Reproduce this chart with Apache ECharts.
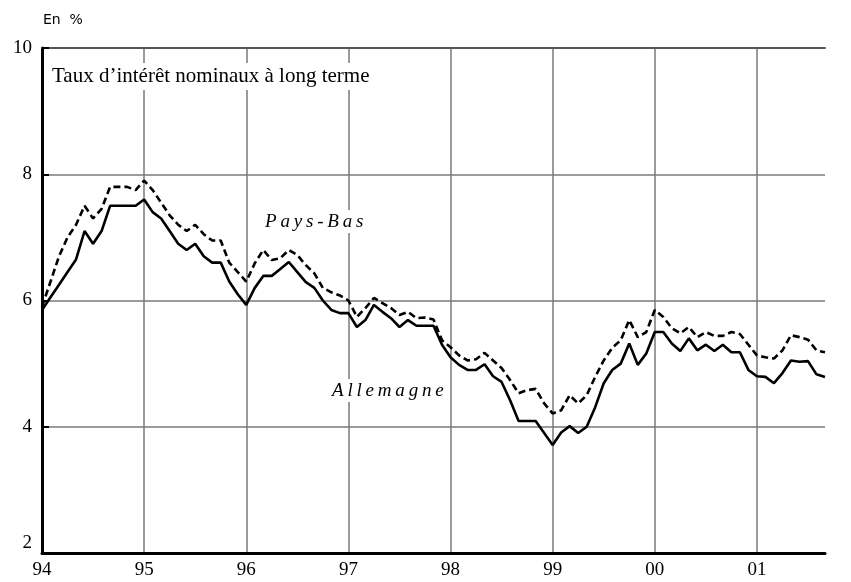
<!DOCTYPE html>
<html><head><meta charset="utf-8">
<script src="https://cdn.jsdelivr.net/npm/echarts@6/dist/echarts.min.js"></script>
<style>html,body{margin:0;padding:0;background:#fff}#c{width:851px;height:582px}</style>
</head><body><div id="c"></div>
<script>
// Monthly, Jan 1994 (index 0) to Sep 2001 (index 92)
const yearLabels = ['94','95','96','97','98','99','00','01'];
const allemagne = [
 5.85,6.05,6.25,6.45,6.65,7.1,6.9,7.1,7.5,7.5,7.5,7.5,
 7.6,7.4,7.3,7.1,6.9,6.8,6.9,6.7,6.6,6.6,6.3,6.1,
 5.93,6.2,6.39,6.39,6.5,6.61,6.45,6.29,6.2,6.0,5.85,5.8,
 5.8,5.58,5.69,5.93,5.82,5.72,5.58,5.69,5.6,5.6,5.6,5.3,
 5.1,4.98,4.9,4.9,4.99,4.8,4.71,4.42,4.09,4.09,4.09,3.9,
 3.71,3.91,4.01,3.9,4.0,4.31,4.69,4.9,5.0,5.32,4.98,5.16,
 5.5,5.5,5.32,5.2,5.4,5.21,5.3,5.2,5.3,5.18,5.18,4.9,
 4.8,4.79,4.69,4.85,5.05,5.03,5.04,4.83,4.79
];
const paysBas = [
 5.9,6.3,6.7,7.0,7.2,7.5,7.3,7.45,7.8,7.8,7.8,7.75,
 7.9,7.75,7.55,7.35,7.2,7.1,7.2,7.05,6.95,6.95,6.6,6.45,
 6.3,6.59,6.8,6.64,6.67,6.8,6.72,6.56,6.43,6.2,6.13,6.08,
 6.0,5.74,5.88,6.04,5.96,5.88,5.77,5.82,5.72,5.73,5.7,5.37,
 5.26,5.13,5.05,5.07,5.17,5.05,4.93,4.74,4.53,4.58,4.6,4.37,
 4.21,4.26,4.5,4.37,4.5,4.79,5.05,5.25,5.37,5.69,5.42,5.5,
 5.85,5.74,5.56,5.48,5.58,5.42,5.5,5.44,5.44,5.5,5.47,5.3,
 5.13,5.1,5.08,5.21,5.45,5.42,5.38,5.21,5.18
];
const yTicks = [2,4,6,8,10];

const chart = echarts.init(document.getElementById('c'));
const serif = '"Liberation Serif", "Times New Roman", serif';
const sp = '\u2009';
chart.setOption({
  animation: false,
  backgroundColor: '#fff',
  title: [
    {text: 'En  %', left: 38, top: 8, textStyle: {fontFamily: '"DejaVu Sans", sans-serif', fontSize: 14, fontWeight: 'normal', color: '#000'}},
    {text: 'Taux d\u2019intérêt nominaux à long terme', left: 49, top: 63, padding: [3, 3],
     backgroundColor: '#fff',
     textStyle: {fontFamily: serif, fontSize: 21, fontWeight: 'normal', color: '#000'}},
    {text: 'Pays-Bas'.split('').join(sp), left: 263, top: 210, padding: [2, 2],
     backgroundColor: '#fff',
     textStyle: {fontFamily: serif, fontSize: 19, fontStyle: 'italic', fontWeight: 'normal', color: '#000'}},
    {text: 'Allemagne'.split('').join(sp), left: 330, top: 379, padding: [2, 2],
     backgroundColor: '#fff',
     textStyle: {fontFamily: serif, fontSize: 19, fontStyle: 'italic', fontWeight: 'normal', color: '#000'}}
  ],
  grid: {left: 42, top: 48, right: 26, bottom: 29, containLabel: false},
  xAxis: [{
    type: 'value', min: 0, max: 92, interval: 12,
    axisLine: {show: true, lineStyle: {color: '#000', width: 3}},
    axisTick: {show: false},
    splitLine: {show: true, showMinLine: false, showMaxLine: false, lineStyle: {color: '#7a7a7a', width: 1.5}},
    axisLabel: {
      fontFamily: serif, fontSize: 19, color: '#000', margin: 8,
      showMaxLabel: false,
      formatter: v => (v % 12 === 0 && v / 12 < yearLabels.length) ? yearLabels[v / 12] : ''
    }
  }, {
    type: 'value', min: 0, max: 92, position: 'top',
    axisLine: {show: true, lineStyle: {color: '#555', width: 2}},
    axisTick: {show: false}, axisLabel: {show: false}, splitLine: {show: false}
  }],
  yAxis: {
    type: 'value', min: 2, max: 10, interval: 2,
    axisLine: {show: true, lineStyle: {color: '#000', width: 3}},
    axisTick: {show: true, inside: true, length: 7, lineStyle: {color: '#000', width: 2}},
    splitLine: {show: true, showMinLine: false, showMaxLine: false, lineStyle: {color: '#7a7a7a', width: 1.5}},
    axisLabel: {
      fontFamily: serif, fontSize: 19, color: '#000', margin: 10,
      formatter: v => yTicks.includes(v) ? (v === 2 ? '{lo|2}' : String(v)) : '',
      rich: {lo: {fontFamily: serif, fontSize: 19, color: '#000', padding: [0, 0, 20, 0]}}
    }
  },
  series: [
    {name: 'Pays-Bas', type: 'line', showSymbol: false, z: 3,
     data: paysBas.map((v, i) => [i, v]),
     lineStyle: {color: '#000', width: 2.6, type: [7, 4]}},
    {name: 'Allemagne', type: 'line', showSymbol: false, z: 4,
     data: allemagne.map((v, i) => [i, v]),
     lineStyle: {color: '#000', width: 2.6}}
  ]
});
</script></body></html>
